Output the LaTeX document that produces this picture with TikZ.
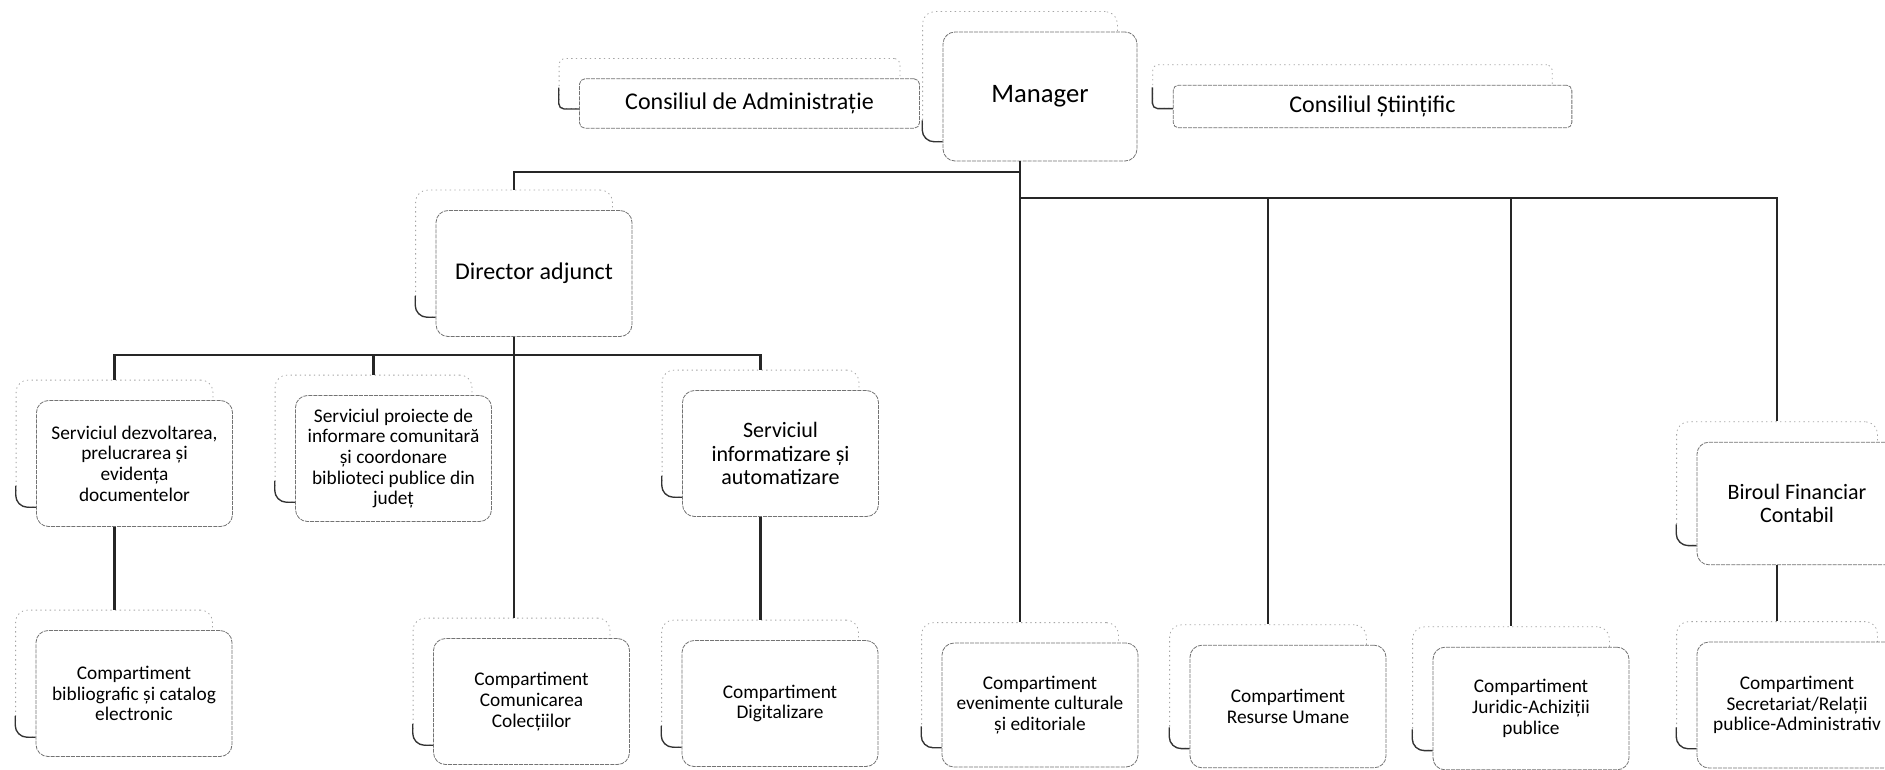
\documentclass[tikz,border=0pt]{standalone}
\usepackage{fontspec}
\setmainfont{Carlito}
\usetikzlibrary{
	positioning,
	calc,
	fit,
	backgrounds
}

\begin{document}
\begin{tikzpicture}[x=0.75pt, y=-0.75pt,
	card/.style={rectangle, rounded corners=9pt, align=center, inner sep=2pt,
		minimum width=147pt, minimum height=94.5pt, fill=white,
		draw=black!55, line width=.6pt, dash pattern=on 3pt off .8pt,
		font=\fontsize{14.5}{15.5}\selectfont},
	cardtop/.style={card, font=\fontsize{18}{20}\selectfont},
	council/.style={card, rounded corners=4pt, font=\fontsize{18}{20}\selectfont},
	backcard/.style={rectangle, draw=black!35, line width=.6pt,
		dash pattern=on 1pt off 2.5pt, fill=white, inner sep=0pt},
	cardhook/.style={draw=black!80, line width=1pt},
	link/.style={draw=black!85, line width=1.8pt}
	]

		\useasboundingbox (0,0) rectangle (1885,770);
		\clip (0,0) rectangle (1885,770);

		\node[council, minimum width=255pt, minimum height=37pt] (cda) at (749.5,103.5) {Consiliul de Administrație};
		\node[card, minimum width=145.5pt, minimum height=96.75pt, font=\fontsize{20}{22}\selectfont] (man) at (1040,96.5) {Manager};
		\node[council, minimum width=299pt, minimum height=32pt] (cs) at (1372.5,106.5) {Consiliul Științific};

		\node[cardtop] (dir) at (534,273.5) {Director adjunct};

		\node[card] (dezv) at (134.5,463.5) {Serviciul dezvoltarea,\\ prelucrarea și\\ evidența\\ documentelor};
		\node[card] (proi) at (393.5,458.5) {Serviciul proiecte de\\ informare comunitară\\ și coordonare\\ biblioteci publice din\\ județ};
		\node[card, font=\fontsize{16.5}{17.6}\selectfont] (info) at (780.5,453.5) {Serviciul\\ informatizare și\\ automatizare};
		\node[card, minimum width=150pt, minimum height=92pt, font=\fontsize{16.5}{17.6}\selectfont] (bir) at (1797,503.5) {Biroul Financiar\\ Contabil};

		\node[card] (bibl) at (134,693.5) {Compartiment\\ bibliografic și catalog\\ electronic};
		\node[card] (comu) at (531.5,701.5) {Compartiment\\ Comunicarea\\ Colecțiilor};
		\node[card] (digi) at (780,703.5) {Compartiment\\ Digitalizare};
		\node[card, minimum height=93pt] (even) at (1040,705) {Compartiment\\ evenimente culturale\\ și editoriale};
		\node[card, minimum height=92pt] (resu) at (1288,706.5) {Compartiment\\ Resurse Umane};
		\node[card, minimum height=92pt] (juri) at (1531,708.5) {Compartiment\\ Juridic-Achiziții\\ publice};
		\node[card, minimum width=150pt] (secr) at (1797,705) {Compartiment\\ Secretariat/Relații\\ publice-Administrativ};

		\begin{scope}[on background layer]
			\foreach \n/\r in {cda/4pt, man/9pt, cs/4pt, dir/9pt, dezv/9pt, proi/9pt, info/9pt, bir/9pt,
				bibl/9pt, comu/9pt, digi/9pt, even/9pt, resu/9pt, juri/9pt, secr/9pt} {
			\node[backcard, rounded corners=\r, fit=(\n), xshift=-15pt, yshift=15pt] (\n-b) {};
			\draw[cardhook, rounded corners=\r] ([yshift=16pt]\n-b.south west) -- (\n-b.south west) -- (\n-b.south west -| \n.west);
			}
		\end{scope}

		\coordinate (busA) at (0,172);
		\coordinate (busB) at (0,198);
		\coordinate (busC) at (0,355);

		\draw[link] (man-b.south |- man.south) -- (man-b.south |- busA) -| (dir-b.north);
		\draw[link] (man-b.south |- busA) -- (man-b.south |- busB) -| (bir-b.north);
		\foreach \n in {even,resu,juri} {
		\draw[link] (\n-b.north |- busB) -- (\n-b.north);
		}

		\draw[link] (dir-b.south |- dir.south) -- (dir-b.south |- comu-b.north);
		\draw[link] (dezv-b.north) |- (busC -| info-b.north) -- (info-b.north);
		\draw[link] (proi-b.north |- busC) -- (proi-b.north);

		\foreach \up/\dn in {dezv/bibl, info/digi, bir/secr} {
		\draw[link] (\up-b.south |- \up.south) -- (\up-b.south |- \dn-b.north);
		}

	\end{tikzpicture}
\end{document}
